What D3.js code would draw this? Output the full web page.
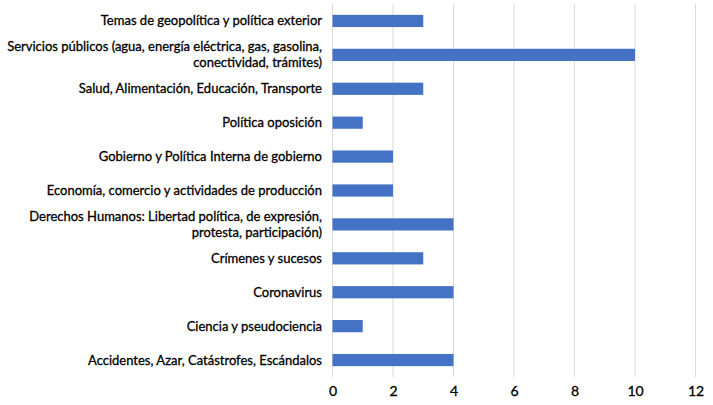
<!DOCTYPE html>
<html><head><meta charset="utf-8">
<script src="https://cdn.jsdelivr.net/npm/d3@7"></script>
<style>body{margin:0;background:#fff}svg{display:block}text{font-family:Lato,sans-serif}</style>
</head><body>
<script>
const categories = [
  ["Temas de geopolítica y política exterior"],
  ["Servicios públicos (agua, energía eléctrica, gas, gasolina,", "conectividad, trámites)"],
  ["Salud, Alimentación, Educación, Transporte"],
  ["Política oposición"],
  ["Gobierno y Política Interna de gobierno"],
  ["Economía, comercio y actividades de producción"],
  ["Derechos Humanos: Libertad política, de expresión,", "protesta, participación)"],
  ["Crímenes y sucesos"],
  ["Coronavirus"],
  ["Ciencia y pseudociencia"],
  ["Accidentes, Azar, Catástrofes, Escándalos"]
];
const values = [3, 10, 3, 1, 2, 2, 4, 3, 4, 1, 4];
const xTicks = [0, 2, 4, 6, 8, 10, 12];

const W = 713, H = 405;
const svg = d3.select("body").append("svg").attr("width", W).attr("height", H);
const x = d3.scaleLinear().domain([0, 12]).range([332.5, 695.5]);
const y = d3.scaleBand().domain(d3.range(categories.length)).range([4, 377]).paddingInner(0.64).paddingOuter(0.32);

svg.append("g").selectAll("line").data(xTicks).join("line")
  .attr("x1", d => x(d)).attr("x2", d => x(d)).attr("y1", 4).attr("y2", 377)
  .attr("stroke", "#d9d9d9").attr("stroke-width", 1);

svg.append("g").selectAll("rect").data(values).join("rect")
  .attr("x", x(0)).attr("y", (d, i) => y(i)).attr("width", d => x(d) - x(0)).attr("height", y.bandwidth())
  .attr("fill", "#4472c4");

const xAxis = svg.append("g").attr("transform", "translate(0,377)")
  .call(d3.axisBottom(x).tickValues(xTicks).tickSize(0).tickPadding(9));
xAxis.select(".domain").remove();
xAxis.selectAll("text").attr("font-size", 14).attr("fill", "#000").style("font-family", "Lato")
  .attr("stroke", "#000").attr("stroke-width", 0.3);

const lab = svg.append("g").selectAll("text").data(categories).join("text")
  .attr("text-anchor", "end").attr("font-size", 13).attr("fill", "#000")
  .attr("stroke", "#000").attr("stroke-width", 0.3)
  .attr("x", 322)
  .attr("y", (d, i) => y(i) + y.bandwidth() / 2);
lab.selectAll("tspan").data(d => d.map((t, j) => ({t, j, n: d.length}))).join("tspan")
  .attr("x", 322)
  .attr("dy", d => d.j === 0 ? ((d.n - 1) * -8 + 4.5) : 16)
  .text(d => d.t);
</script>
</body></html>
